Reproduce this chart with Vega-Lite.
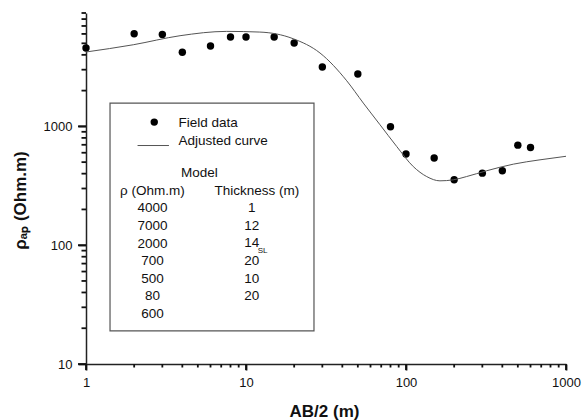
{
  "$schema": "https://vega.github.io/schema/vega-lite/v6.json",
  "autosize": {"type": "none"},
  "width": 480,
  "height": 351,
  "padding": {"left": 86, "top": 13, "right": 22, "bottom": 56},
  "background": "white",
  "config": {
    "view": {"stroke": null},
    "font": "Liberation Sans",
    "text": {"font": "Liberation Sans", "fontSize": 13.5, "color": "#111"}
  },
  "resolve": {"axis": {"x": "independent", "y": "independent"}},
  "datasets": {
    "field": [
      {"ab2": 1, "rho": 4570},
      {"ab2": 2, "rho": 6020},
      {"ab2": 3, "rho": 5940},
      {"ab2": 4, "rho": 4200},
      {"ab2": 6, "rho": 4745},
      {"ab2": 8, "rho": 5650},
      {"ab2": 10, "rho": 5650},
      {"ab2": 15, "rho": 5650},
      {"ab2": 20, "rho": 5035},
      {"ab2": 30, "rho": 3160},
      {"ab2": 50, "rho": 2760},
      {"ab2": 80, "rho": 993},
      {"ab2": 100, "rho": 585},
      {"ab2": 150, "rho": 541},
      {"ab2": 200, "rho": 355},
      {"ab2": 300, "rho": 404},
      {"ab2": 400, "rho": 423},
      {"ab2": 500, "rho": 695},
      {"ab2": 600, "rho": 664}
    ],
    "curve": [
      {"ab2": 1, "rho": 4227},
      {"ab2": 1.975, "rho": 4864},
      {"ab2": 3.87, "rho": 5795},
      {"ab2": 7.57, "rho": 6302},
      {"ab2": 12.2, "rho": 6220},
      {"ab2": 19.7, "rho": 5470},
      {"ab2": 29.0, "rho": 4146},
      {"ab2": 42.6, "rho": 2421},
      {"ab2": 54.1, "rho": 1571},
      {"ab2": 68.8, "rho": 1032},
      {"ab2": 87.5, "rho": 677},
      {"ab2": 111, "rho": 459},
      {"ab2": 134.7, "rho": 378},
      {"ab2": 163, "rho": 348},
      {"ab2": 197.6, "rho": 355},
      {"ab2": 239, "rho": 378},
      {"ab2": 319, "rho": 423},
      {"ab2": 469, "rho": 481},
      {"ab2": 688, "rho": 523},
      {"ab2": 1000, "rho": 560}
    ],
    "xmajor": [{"v": 1}, {"v": 10}, {"v": 100}, {"v": 1000}],
    "xminor": [{"v": 2}, {"v": 3}, {"v": 4}, {"v": 5}, {"v": 6}, {"v": 7}, {"v": 8}, {"v": 9},
               {"v": 20}, {"v": 30}, {"v": 40}, {"v": 50}, {"v": 60}, {"v": 70}, {"v": 80}, {"v": 90},
               {"v": 200}, {"v": 300}, {"v": 400}, {"v": 500}, {"v": 600}, {"v": 700}, {"v": 800}, {"v": 900}],
    "ymajor": [{"v": 10}, {"v": 100}, {"v": 1000}],
    "yminor": [{"v": 20}, {"v": 30}, {"v": 40}, {"v": 50}, {"v": 60}, {"v": 70}, {"v": 80}, {"v": 90},
               {"v": 200}, {"v": 300}, {"v": 400}, {"v": 500}, {"v": 600}, {"v": 700}, {"v": 800}, {"v": 900},
               {"v": 2000}, {"v": 3000}, {"v": 4000}, {"v": 5000}, {"v": 6000}, {"v": 7000}, {"v": 8000}, {"v": 9000}]
  },
  "layer": [
    {
      "data": {"name": "field"},
      "mark": {"type": "circle", "size": 55, "color": "#000", "opacity": 1},
      "encoding": {
        "x": {
          "field": "ab2", "type": "quantitative",
          "scale": {"type": "log", "domain": [1, 1000], "nice": false},
          "axis": {
            "orient": "bottom",
            "values": [1, 10, 100, 1000],
            "format": "d",
            "grid": false,
            "domainColor": "#222", "domainWidth": 1.5,
            "ticks": true, "tickColor": "#111", "tickWidth": 1.8, "tickSize": 6,
            "labelFont": "Liberation Sans", "labelFontSize": 13, "labelColor": "#111",
            "labelPadding": 6, "labelFlush": false, "labelOverlap": false, "labelBaseline": "top",
            "title": "AB/2 (m)",
            "titleFont": "Liberation Sans", "titleFontSize": 17, "titleFontWeight": "bold", "titleColor": "#111",
            "titleX": 238, "titleY": 52, "titleBaseline": "alphabetic", "titleAnchor": null
          }
        },
        "y": {
          "field": "rho", "type": "quantitative",
          "scale": {"type": "log", "domain": [10, 9000], "nice": false},
          "axis": {
            "orient": "left",
            "values": [10, 100, 1000],
            "format": "d",
            "grid": false,
            "domainColor": "#222", "domainWidth": 1.5,
            "ticks": true, "tickColor": "#111", "tickWidth": 1.8, "tickSize": 8,
            "labelFont": "Liberation Sans", "labelFontSize": 13, "labelColor": "#111",
            "labelPadding": 6, "labelFlush": false, "labelOverlap": false,
            "title": "ρₐₚ (Ohm.m)",
            "titleFont": "Liberation Sans", "titleFontSize": 17, "titleFontWeight": "bold", "titleColor": "#111",
            "titleX": -57, "titleY": 187, "titleBaseline": "bottom", "titleAnchor": null
          }
        }
      }
    },
    {
      "data": {"name": "curve"},
      "mark": {"type": "line", "color": "#555", "strokeWidth": 1, "interpolate": "monotone"},
      "encoding": {
        "x": {"field": "ab2", "type": "quantitative", "axis": null},
        "y": {"field": "rho", "type": "quantitative", "axis": null}
      }
    },
    {
      "data": {"name": "xmajor"},
      "mark": {"type": "rule", "color": "#111", "strokeWidth": 1.8, "clip": false},
      "encoding": {
        "x": {"field": "v", "type": "quantitative", "axis": null},
        "y": {"datum": 10, "axis": null}, "y2": {"datum": 8.903}
      }
    },
    {
      "data": {"name": "xminor"},
      "mark": {"type": "rule", "color": "#111", "strokeWidth": 1.8, "clip": false},
      "encoding": {
        "x": {"field": "v", "type": "quantitative", "axis": null},
        "y": {"datum": 10, "axis": null}, "y2": {"datum": 9.344}
      }
    },
    {
      "data": {"name": "ymajor"},
      "mark": {"type": "rule", "color": "#111", "strokeWidth": 1.8, "clip": false},
      "encoding": {
        "y": {"field": "v", "type": "quantitative", "axis": null},
        "x": {"datum": 1, "axis": null}, "x2": {"datum": 0.8913}
      }
    },
    {
      "data": {"name": "yminor"},
      "mark": {"type": "rule", "color": "#111", "strokeWidth": 1.8, "clip": false},
      "encoding": {
        "y": {"field": "v", "type": "quantitative", "axis": null},
        "x": {"datum": 1, "axis": null}, "x2": {"datum": 0.9373}
      }
    },
    {
      "data": {"values": [{}]},
      "mark": {"type": "rect", "filled": false, "stroke": "#555", "strokeWidth": 1.2},
      "encoding": {
        "x": {"datum": 1.413, "axis": null}, "x2": {"datum": 26.6},
        "y": {"datum": 1571, "axis": null}, "y2": {"datum": 18.97}
      }
    },
    {
      "data": {"values": [{}]},
      "mark": {"type": "circle", "size": 55, "color": "#000", "opacity": 1},
      "encoding": {"x": {"datum": 2.67, "axis": null}, "y": {"datum": 1086, "axis": null}}
    },
    {
      "data": {"values": [{}]},
      "mark": {"type": "rule", "color": "#555", "strokeWidth": 1},
      "encoding": {"x": {"datum": 2.10, "axis": null}, "x2": {"datum": 3.30}, "y": {"datum": 690, "axis": null}}
    },
    {
      "data": {"values": [{}]},
      "mark": {"type": "text", "text": "Field data", "align": "left", "baseline": "middle"},
      "encoding": {"x": {"datum": 3.78, "axis": null}, "y": {"datum": 1067, "axis": null}}
    },
    {
      "data": {"values": [{}]},
      "mark": {"type": "text", "text": "Adjusted curve", "align": "left", "baseline": "middle"},
      "encoding": {"x": {"datum": 3.78, "axis": null}, "y": {"datum": 757, "axis": null}}
    },
    {
      "data": {"values": [{}]},
      "mark": {"type": "text", "text": "Model", "align": "center", "baseline": "middle"},
      "encoding": {"x": {"datum": 5.11, "axis": null}, "y": {"datum": 409, "axis": null}}
    },
    {
      "data": {"values": [{}]},
      "mark": {"type": "text", "text": "Thickness (m)", "align": "center", "baseline": "middle"},
      "encoding": {"x": {"datum": 11.7, "axis": null}, "y": {"datum": 288, "axis": null}}
    },
    {
      "data": {"values": [{}]},
      "mark": {"type": "text", "text": ["ρ (Ohm.m)", "4000", "7000", "2000", "700", "500", "80", "600"], "align": "center", "baseline": "middle", "lineHeight": 17.65},
      "encoding": {"x": {"datum": 2.6, "axis": null}, "y": {"datum": 288, "axis": null}}
    },
    {
      "data": {"values": [{}]},
      "mark": {"type": "text", "text": ["1", "12", "14", "20", "10", "20"], "align": "center", "baseline": "middle", "lineHeight": 17.65},
      "encoding": {"x": {"datum": 10.85, "axis": null}, "y": {"datum": 205, "axis": null}}
    },
    {
      "data": {"values": [{}]},
      "mark": {"type": "text", "text": "SL", "align": "center", "baseline": "middle", "fontSize": 8},
      "encoding": {"x": {"datum": 12.7, "axis": null}, "y": {"datum": 90.1, "axis": null}}
    }
  ]
}
